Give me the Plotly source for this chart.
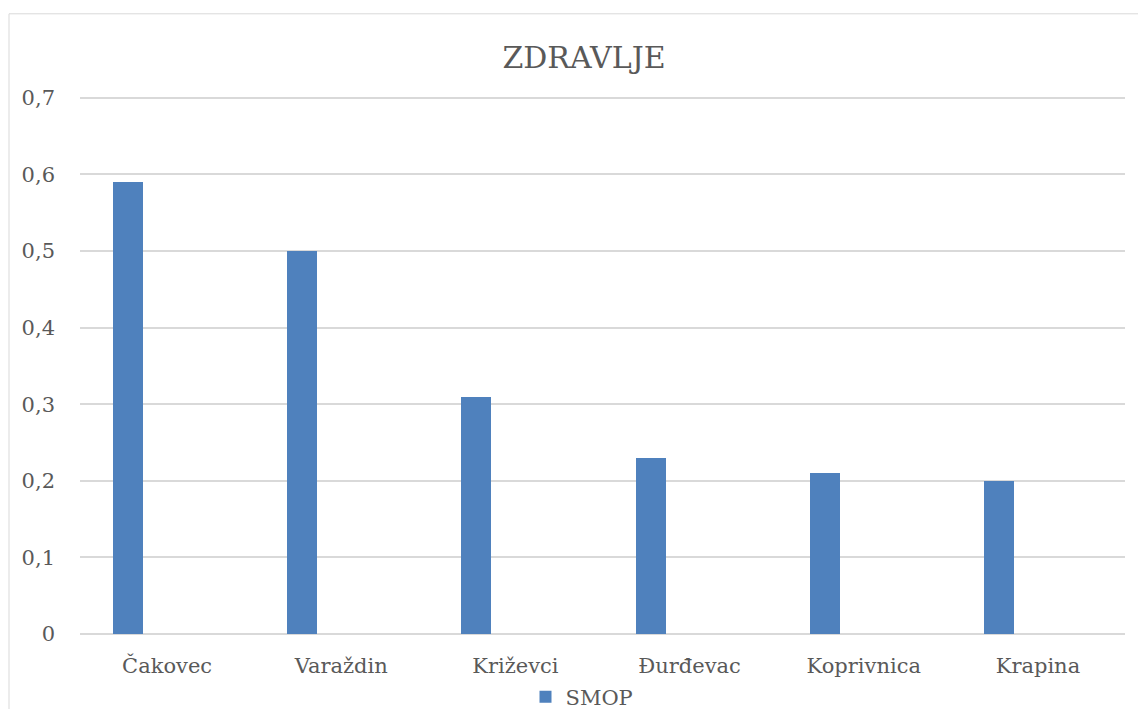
import plotly.graph_objects as go

categories = ["Čakovec", "Varaždin", "Križevci", "Đurđevac", "Koprivnica", "Krapina"]
smop = [0.59, 0.50, 0.31, 0.23, 0.21, 0.20]
y_ticks = [0, 0.1, 0.2, 0.3, 0.4, 0.5, 0.6, 0.7]
y_max = 0.705

# page offset (default body margin of the html page)
OX, OY = 8, 8
W, H = 1146 - OX, 709 - OY

# plot area in page pixels
P_LEFT, P_RIGHT, P_BOTTOM = 80, 1125, 634
PER_UNIT = (634 - 98) / 0.7
P_TOP = P_BOTTOM - y_max * PER_UNIT

L = P_LEFT - OX
R = W - (P_RIGHT - OX)
B = H - (P_BOTTOM - OY)
T = P_TOP - OY
pw, ph = W - L - R, H - T - B

def px(x):
    return (x - P_LEFT) / pw

def py(y):
    return (P_BOTTOM - y) / ph

FONT = "DejaVu Serif"
GRAY = "#595959"

fig = go.Figure()
fig.add_trace(go.Bar(
    x=categories, y=smop, name="SMOP",
    marker=dict(color="#4f81bd", line=dict(width=0)),
    width=0.172, offset=-0.31,
))

fig.update_layout(
    width=W, height=H,
    margin=dict(l=L, r=R, t=T, b=B, autoexpand=False),
    paper_bgcolor="white", plot_bgcolor="white",
    separators=", ",
    font=dict(family=FONT, color=GRAY, size=21),
    title=dict(text="ZDRAVLJE", x=px(584), xref="paper", xanchor="center",
               y=1 - (57 - OY) / H, yanchor="middle",
               font=dict(family=FONT, size=30, color=GRAY)),
    showlegend=True,
    legend=dict(orientation="h", x=px(582), xanchor="center", yref="container",
                y=1 - (697 - OY) / H, yanchor="middle",
                font=dict(family=FONT, size=21, color=GRAY), itemwidth=30),
    xaxis=dict(type="category", showgrid=False, showline=False, ticks="",
               ticklabelstandoff=17,
               tickfont=dict(family=FONT, size=21, color=GRAY)),
    yaxis=dict(range=[0, y_max], tickvals=y_ticks, showgrid=True, gridcolor="#d9d9d9",
               gridwidth=1.5, zeroline=True, zerolinecolor="#d9d9d9", zerolinewidth=1.5,
               showline=False, ticks="", ticklabelstandoff=24,
               tickfont=dict(family=FONT, size=21, color=GRAY)),
    bargap=0,
)

fig.add_shape(type="rect", xref="paper", yref="paper",
              x0=px(9), x1=px(1200), y0=py(760), y1=py(14),
              line=dict(color="#d9d9d9", width=1), fillcolor="rgba(0,0,0,0)", layer="below")

fig.write_html("out.html")
